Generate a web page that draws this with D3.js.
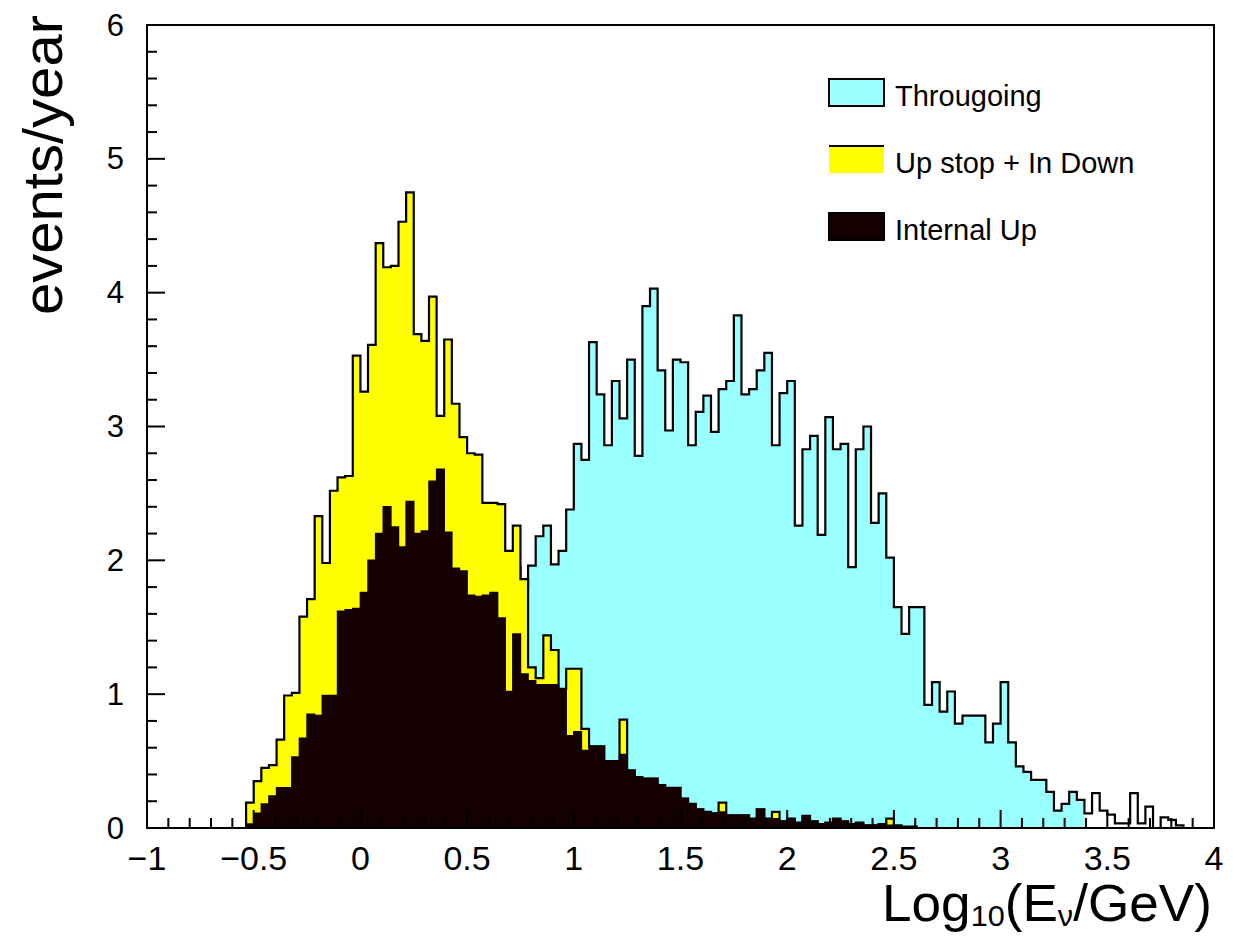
<!DOCTYPE html>
<html><head><meta charset="utf-8">
<script src="https://cdn.jsdelivr.net/npm/d3@7"></script>
<style>
body{margin:0;background:#fff}
svg{display:block}
text{font-family:"Liberation Sans",Arial,Helvetica,sans-serif;fill:#000}
</style>
</head><body>
<svg id="chart" width="1233" height="939"></svg>
<script>
// ---------------- data ----------------
const xDomain = [-1, 4];
const yDomain = [0, 6];
const nBins = 140;
const xTickValues = [-1, -0.5, 0, 0.5, 1, 1.5, 2, 2.5, 3, 3.5, 4];
const xTickLabels = ["\u22121", "\u22120.5", "0", "0.5", "1", "1.5", "2", "2.5", "3", "3.5", "4"];
const yTickValues = [0, 1, 2, 3, 4, 5, 6];
const yTickLabels = ["0", "1", "2", "3", "4", "5", "6"];
const seriesNames = ["Througoing", "Up stop + In Down", "Internal Up"];

const throughgoing = [
  0,0,0,0,0,0,0,0,0,0,
  0,0,0,0,0,0,0,0,0,0,
  0.02,0.04,0.06,0.10,0.12,0.18,0.22,0.30,0.35,0.42,
  0.50,0.58,0.66,0.75,0.85,0.92,1.02,1.10,1.18,1.28,
  1.35,1.45,1.52,1.60,1.70,1.78,1.92,1.98,1.95,1.80,
  1.96,2.18,2.26,1.97,2.07,2.38,2.87,2.75,3.63,3.24,
  2.86,3.34,3.06,3.50,2.78,3.90,4.03,3.42,2.97,3.50,
  3.48,2.86,3.11,3.23,2.96,3.28,3.34,3.83,3.24,3.28,
  3.42,3.55,2.86,3.25,3.34,2.26,2.83,2.93,2.19,3.07,
  2.83,2.87,1.95,2.83,3.00,2.28,2.50,2.02,1.65,1.45,
  1.65,1.65,0.92,1.09,0.87,1.02,0.78,0.84,0.84,0.84,
  0.64,0.78,1.09,0.64,0.46,0.42,0.36,0.36,0.27,0.13,
  0.18,0.27,0.21,0.11,0.26,0.13,0.10,0.035,0.035,0.26,
  0.035,0.16,0,0.08,0.06,0.02,0,0,0,0
];

const upStopInDown = [
  0,0,0,0,0,0,0,0,0,0,
  0,0,0,0.19,0.35,0.45,0.47,0.66,0.99,1.01,
  1.58,1.71,2.33,1.98,2.52,2.62,2.63,3.53,3.26,3.61,
  4.37,4.19,4.20,4.53,4.75,3.69,3.64,3.97,3.08,3.65,
  3.17,2.92,2.80,2.79,2.43,2.43,2.42,2.07,2.26,1.86,
  1.20,1.12,1.44,1.33,1.04,1.19,1.19,0.74,0.61,0.61,
  0.50,0.50,0.81,0.43,0.38,0.37,0.37,0.32,0.30,0.30,
  0.22,0.18,0.14,0.12,0.11,0.19,0.095,0.095,0.095,0.07,
  0.14,0.07,0.12,0.05,0.07,0.04,0.09,0.05,0.03,0.04,
  0.07,0.05,0.03,0.04,0.02,0.02,0.03,0.07,0.02,0.01,
  0.01,0,0,0,0,0,0,0,0,0,
  0,0,0,0,0,0,0,0,0,0,
  0,0,0,0,0,0,0,0,0,0,
  0,0,0,0,0,0,0,0,0,0
];

const internalUp = [
  0,0,0,0,0,0,0,0,0,0,
  0,0,0,0.03,0.11,0.18,0.24,0.30,0.30,0.53,
  0.67,0.85,0.84,0.99,0.99,1.62,1.63,1.64,1.76,2.00,
  2.20,2.40,2.25,2.10,2.44,2.20,2.22,2.59,2.68,2.21,
  1.94,1.92,1.74,1.73,1.74,1.76,1.57,1.02,1.45,1.15,
  1.10,1.07,1.07,1.07,1.04,0.69,0.72,0.58,0.61,0.61,
  0.50,0.50,0.55,0.43,0.38,0.37,0.37,0.32,0.30,0.30,
  0.22,0.18,0.14,0.12,0.11,0.12,0.095,0.095,0.095,0.07,
  0.14,0.07,0.07,0.05,0.07,0.04,0.09,0.05,0.03,0.04,
  0.07,0.05,0.03,0.04,0.02,0.02,0.03,0.02,0.01,0.01,
  0.01,0,0,0,0,0,0,0,0,0,
  0,0,0,0,0,0,0,0,0,0,
  0,0,0,0,0,0,0,0,0,0,
  0,0,0,0,0,0,0,0,0,0
];

// ---------------- layout / style ----------------
const frame = {left: 147, right: 1214, top: 25, bottom: 828};
const colors = {through: "#99ffff", upstop: "#ffff00", internal: "#140000", line: "#000"};
const throughFilledBins = 123;   // the cyan fill stops here; outline continues

const svg = d3.select("#chart");
const x = d3.scaleLinear().domain(xDomain).range([frame.left, frame.right]);
const y = d3.scaleLinear().domain(yDomain).range([frame.bottom, frame.top]);
const edges = d3.range(nBins + 1).map(i => xDomain[0] + i * (xDomain[1] - xDomain[0]) / nBins);

function stepPoints(vals, count) {
  const n = count === undefined ? vals.length : count;
  const pts = [[edges[0], 0]];
  for (let i = 0; i < n; i++) {
    pts.push([edges[i], vals[i]]);
    pts.push([edges[i + 1], vals[i]]);
  }
  pts.push([edges[n], 0]);
  return pts;
}
const line = d3.line().x(d => x(d[0])).y(d => y(d[1]));

const g = svg.append("g");

// Throughgoing (cyan) fill + outline
g.append("path").attr("d", line(stepPoints(throughgoing, throughFilledBins)) + "Z")
  .attr("fill", colors.through).attr("stroke", "none");
g.append("path").attr("d", line(stepPoints(throughgoing)))
  .attr("fill", "none").attr("stroke", colors.line).attr("stroke-width", 2.2)
  .attr("stroke-linejoin", "miter");

// Up stop + In Down (yellow)
g.append("path").attr("d", line(stepPoints(upStopInDown)) + "Z")
  .attr("fill", colors.upstop).attr("stroke", colors.line).attr("stroke-width", 2.2);

// Internal Up (black)
g.append("path").attr("d", line(stepPoints(internalUp)) + "Z")
  .attr("fill", colors.internal).attr("stroke", colors.internal).attr("stroke-width", 1.5);

// ---------------- axes ----------------
const ax = svg.append("g").attr("stroke", "#000").attr("stroke-width", 2);
ax.append("rect").attr("x", frame.left).attr("y", frame.top)
  .attr("width", frame.right - frame.left).attr("height", frame.bottom - frame.top)
  .attr("fill", "none");

// x ticks: minor every 0.1, major every 0.5
x.ticks(50).forEach(v => {
  const major = Math.abs(v * 2 - Math.round(v * 2)) < 1e-6;
  ax.append("line").attr("x1", x(v)).attr("x2", x(v))
    .attr("y1", frame.bottom).attr("y2", frame.bottom - (major ? 18 : 10));
});
// y ticks: minor every 0.2, major every 1
y.ticks(30).forEach(v => {
  const major = Math.abs(v - Math.round(v)) < 1e-6;
  ax.append("line").attr("y1", y(v)).attr("y2", y(v))
    .attr("x1", frame.left).attr("x2", frame.left + (major ? 18 : 10));
});

xTickValues.forEach((v, i) => {
  svg.append("text").attr("x", x(v)).attr("y", 870)
    .attr("text-anchor", "middle").attr("font-size", 34).text(xTickLabels[i]);
});
yTickValues.forEach((v, i) => {
  svg.append("text").attr("x", 124).attr("y", y(v))
    .attr("text-anchor", "end").attr("dominant-baseline", "central")
    .attr("font-size", 31).text(yTickLabels[i]);
});

// axis titles
const xt = svg.append("text").attr("x", 1212).attr("y", 921)
  .attr("text-anchor", "end").attr("font-size", 52)
  .attr("textLength", 330).attr("lengthAdjust", "spacingAndGlyphs");
xt.append("tspan").text("Log");
xt.append("tspan").attr("font-size", 30).attr("dy", 5).text("10");
xt.append("tspan").attr("dy", -5).text("(E");
xt.append("tspan").attr("font-size", 30).attr("dy", 5).text("\u03bd");
xt.append("tspan").attr("dy", -5).text("/GeV)");

svg.append("text").attr("transform", "translate(62,15) rotate(-90)")
  .attr("text-anchor", "end").attr("font-size", 56)
  .attr("textLength", 300).attr("lengthAdjust", "spacingAndGlyphs")
  .text("events/year");

// ---------------- legend ----------------
const legendFills = [colors.through, colors.upstop, colors.internal];
const leg = svg.append("g");
seriesNames.forEach((name, i) => {
  const top = 79 + i * 67;
  leg.append("rect").attr("x", 829).attr("y", top).attr("width", 55).attr("height", 27)
    .attr("fill", legendFills[i])
    .attr("stroke", i === 1 ? "none" : "#000").attr("stroke-width", 2);
  if (i === 1) {
    leg.append("line").attr("x1", 829).attr("x2", 884).attr("y1", top).attr("y2", top)
      .attr("stroke", "#000").attr("stroke-width", 2);
  }
  leg.append("text").attr("x", 895).attr("y", top + 27).attr("font-size", 29).text(name);
});
</script>
</body></html>
